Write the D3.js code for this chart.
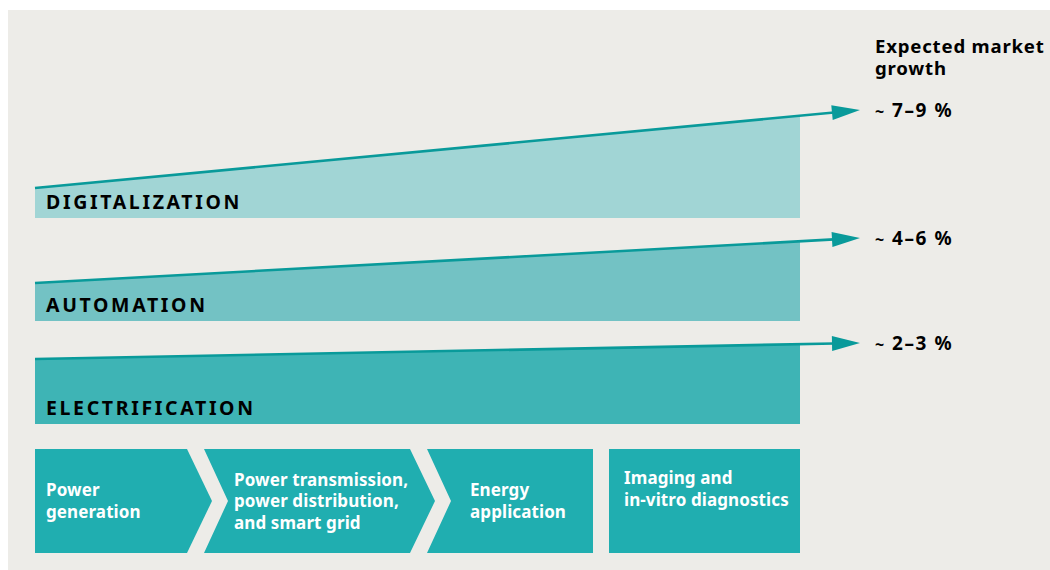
<!DOCTYPE html>
<html><head><meta charset="utf-8">
<script src="https://cdn.jsdelivr.net/npm/d3@7"></script>
<style>
html,body{margin:0;padding:0;background:#fff;}
svg{display:block;font-family:"Noto Sans",sans-serif;}
</style></head><body>
<svg id="c" width="1050" height="570"></svg>
<script>
// ---- data ----
const categories = ["DIGITALIZATION", "AUTOMATION", "ELECTRIFICATION"];
const growthLabels = ["7–9 %", "4–6 %", "2–3 %"];
// line level at start (left) and at arrow tip (right), band base level (same vertical units as y scale)
const lineStart = [188, 283, 359];
const lineTip   = [110, 238, 343];
const bandBase  = [218, 321, 424];
const bandColors = ["#a1d5d5", "#73c2c4", "#3eb4b5"];
const steps = [
  ["Power", "generation"],
  ["Power transmission,", "power distribution,", "and smart grid"],
  ["Energy", "application"],
  ["Imaging and", "in-vitro diagnostics"]
];
const stepStart = [35, 204, 427, 609];
const stepEnd   = [187, 410, 593, 800];
const stepChevron = [true, true, false, false];
const stepNotch = [false, true, true, false];
const title = ["Expected market", "growth"];

// ---- scales ----
const W = 1050, H = 570;
const x = d3.scaleLinear().domain([35, 860]).range([35, 860]);
const y = d3.scaleLinear().domain([0, 570]).range([0, 570]);
const bandEndX = 800, tipX = 860, arrowLen = 28, arrowHalf = 7.5;
const lineAt = (i, xv) => lineStart[i] + (lineTip[i] - lineStart[i]) * (xv - 35) / (tipX - 35);

const svg = d3.select("#c");
svg.append("rect").attr("x", 8).attr("y", 10).attr("width", W - 8).attr("height", H - 10).attr("fill", "#edece8");

const teal = "#099a9a";
const g = svg.append("g");
categories.forEach((c, i) => {
  const pts = [[x(35), y(lineStart[i])], [x(bandEndX), y(lineAt(i, bandEndX))], [x(bandEndX), y(bandBase[i])], [x(35), y(bandBase[i])]];
  g.append("path").attr("d", d3.line()(pts) + "Z").attr("fill", bandColors[i]);
  const ax = tipX - arrowLen;
  g.append("line").attr("x1", x(35)).attr("y1", y(lineStart[i]))
    .attr("x2", x(ax + 2)).attr("y2", y(lineAt(i, ax + 2)))
    .attr("stroke", teal).attr("stroke-width", 2.6);
  const ang = Math.atan2(y(lineTip[i]) - y(lineAt(i, ax)), x(tipX) - x(ax));
  const bx = x(ax), by = y(lineAt(i, ax));
  const nx = -Math.sin(ang) * arrowHalf, ny = Math.cos(ang) * arrowHalf;
  g.append("path").attr("d", d3.line()([[bx + nx, by + ny], [x(tipX), y(lineTip[i])], [bx - nx, by - ny]]) + "Z").attr("fill", teal);
  g.append("text").attr("x", 46).attr("y", y(bandBase[i]) - 9.5)
    .attr("font-size", 19.5).attr("font-weight", 700).attr("letter-spacing", 2.65)
    .attr("fill", "#000").text(c);
  const t = g.append("text").attr("x", 875).attr("y", y(lineTip[i]) + 7)
    .attr("font-weight", 700).attr("fill", "#000");
  t.append("tspan").attr("font-size", 16).text("~");
  t.append("tspan").attr("x", 892).attr("font-size", 19).attr("letter-spacing", 1.6).text(growthLabels[i]);
});

svg.append("text").attr("x", 875).attr("y", 53).attr("font-size", 18.6).attr("font-weight", 700).attr("letter-spacing", 0.8)
  .selectAll("tspan").data(title).join("tspan").attr("x", 875).attr("dy", (d, i) => i ? 22 : 0).text(d => d);

const boxTop = 449, boxBot = 553, boxMid = (boxTop + boxBot) / 2, tipW = 25;
steps.forEach((lines, i) => {
  const x0 = stepStart[i], x1 = stepEnd[i];
  const pts = [[x0, boxTop], [x1, boxTop]];
  if (stepChevron[i]) pts.push([x1 + tipW, boxMid]);
  pts.push([x1, boxBot], [x0, boxBot]);
  if (stepNotch[i]) pts.push([x0 + tipW - 1, boxMid]);
  svg.append("path").attr("d", d3.line()(pts) + "Z").attr("fill", "#20aeb0");
  const tx = x0 + (stepNotch[i] ? 30 : (i === 3 ? 15 : 11)) + (i === 2 ? 13 : 0);
  const lh = 21.5;
  const cy = i === 3 ? 484 : boxMid - (lines.length - 1) * lh / 2 + 6;
  svg.append("text").attr("font-size", 17).attr("font-weight", 700).attr("fill", "#fff").attr("letter-spacing", 0.1)
    .selectAll("tspan").data(lines).join("tspan").attr("x", tx).attr("y", (d, k) => cy + k * lh).text(d => d);
});
</script></body></html>
